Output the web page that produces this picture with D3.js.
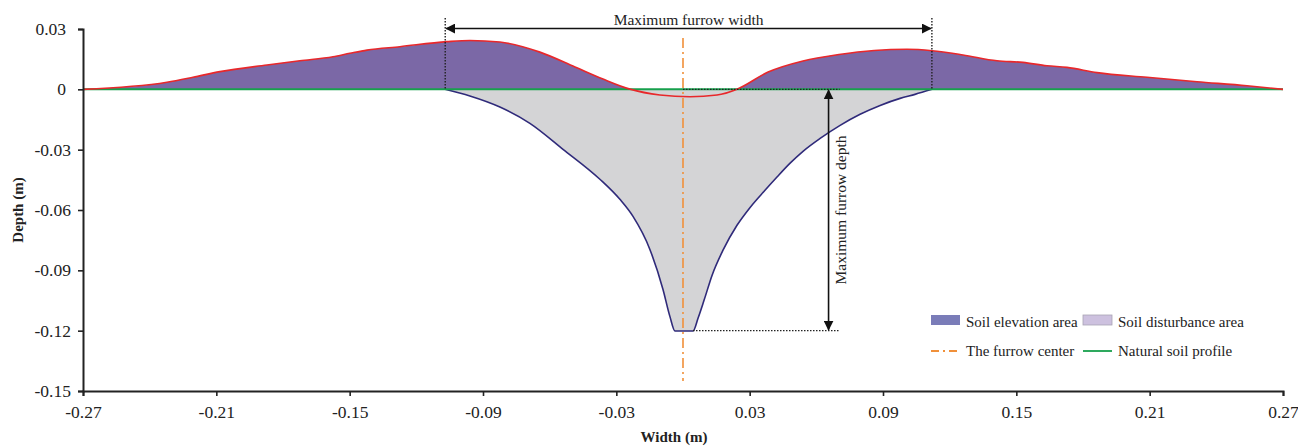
<!DOCTYPE html>
<html>
<head>
<meta charset="utf-8">
<script src="https://cdn.jsdelivr.net/npm/d3@7"></script>
<style>
  html, body { margin: 0; padding: 0; background: #fff; }
  svg { display: block; font-family: "Liberation Serif", "Times New Roman", serif; }
</style>
</head>
<body>
<svg id="chart" width="1298" height="446"></svg>
<script>
// Soil surface after furrowing (elevation profile), m
const surfaceX = [-0.27, -0.2322, -0.2205, -0.2084, -0.1872, -0.1724, -0.1575, -0.1499, -0.1422, -0.1274,
  -0.1062, -0.0959, -0.0824, -0.0644, -0.0486, -0.036, -0.0239, -0.0104, 0.0032, 0.0153, 0.0243,
  0.0383, 0.054, 0.0702, 0.086, 0.1008, 0.1121, 0.126, 0.1413, 0.153, 0.1638, 0.1728, 0.1863,
  0.2088, 0.2313, 0.2538, 0.27];
const surfaceY = [0, 0.0035, 0.006, 0.0088, 0.0121, 0.0142, 0.0162, 0.0179, 0.0195, 0.0212,
  0.0237, 0.0243, 0.0235, 0.0185, 0.0111, 0.0051, 0.0001, -0.0028, -0.0037, -0.0028, 0.0001,
  0.0086, 0.0141, 0.0173, 0.0193, 0.0199, 0.0192, 0.0171, 0.0142, 0.0134, 0.0117, 0.0109, 0.0083,
  0.006, 0.0038, 0.0018, 0];

// Furrow bottom (disturbed soil boundary), m
const bottomX = [-0.1071, -0.0959, -0.0824, -0.0689, -0.054, -0.0374, -0.0284, -0.0225, -0.0149, -0.009,
  -0.0059, -0.0036, 0.0045, 0.0068, 0.0095, 0.0131, 0.018, 0.0243, 0.0302, 0.0369, 0.0423, 0.0482,
  0.054, 0.0617, 0.0707, 0.0797, 0.0887, 0.0977, 0.1044, 0.1121];
const bottomY = [0, -0.0033, -0.0088, -0.0169, -0.0298, -0.0447, -0.0547, -0.0632, -0.0796, -0.0995,
  -0.1129, -0.1202, -0.1202, -0.1137, -0.1048, -0.0924, -0.0800, -0.0676, -0.0587, -0.0502, -0.0436, -0.0367,
  -0.0308, -0.0244, -0.0179, -0.0124, -0.0080, -0.0045, -0.0025, 0];

// Axis ticks
const xTicks = [-0.27, -0.21, -0.15, -0.09, -0.03, 0.03, 0.09, 0.15, 0.21, 0.27];
const yTicks = [0.03, 0, -0.03, -0.06, -0.09, -0.12, -0.15];

// Furrow dimensions
const furrowEdges = [-0.107, 0.112];
const furrowDepth = -0.12;
const furrowCenter = 0;

const svg = d3.select("#chart");
const W = 1298, H = 446;
const margin = { left: 83, right: 15, top: 29, bottom: 55 };

const x = d3.scaleLinear().domain([-0.27, 0.27]).range([margin.left, W - margin.right]);
const y = d3.scaleLinear().domain([-0.15, 0.03]).range([H - margin.bottom, margin.top]);

const surface = surfaceX.map((v, i) => [v, surfaceY[i]]);
const bottom = bottomX.map((v, i) => [v, bottomY[i]]);

const defs = svg.append("defs");
defs.append("marker")
  .attr("id", "arrow")
  .attr("viewBox", "0 0 10 10")
  .attr("refX", 9).attr("refY", 5)
  .attr("markerWidth", 10).attr("markerHeight", 10)
  .attr("markerUnits", "userSpaceOnUse")
  .attr("orient", "auto-start-reverse")
  .append("path").attr("d", "M0,0 L10,5 L0,10 Z").attr("fill", "#111");

const curve = d3.curveMonotoneX;

// Elevated soil (between surface and natural profile)
svg.append("path")
  .datum(surface)
  .attr("fill", "#7b68a6")
  .attr("d", d3.area().x(d => x(d[0])).y0(y(0)).y1(d => y(d[1])).curve(curve));

// Disturbed soil (between natural profile and furrow bottom)
svg.append("path")
  .datum(bottom)
  .attr("fill", "#d4d4d6")
  .attr("d", d3.area().x(d => x(d[0])).y0(y(0)).y1(d => y(d[1])).curve(curve));

// Furrow bottom line
svg.append("path")
  .datum(bottom)
  .attr("fill", "none")
  .attr("stroke", "#2f2a7a")
  .attr("stroke-width", 1.6)
  .attr("d", d3.line().x(d => x(d[0])).y(d => y(d[1])).curve(curve));

// Natural soil profile
svg.append("line")
  .attr("x1", x(-0.27)).attr("x2", x(0.27))
  .attr("y1", y(0)).attr("y2", y(0))
  .attr("stroke", "#17a04c").attr("stroke-width", 2);

// Soil surface line
svg.append("path")
  .datum(surface)
  .attr("fill", "none")
  .attr("stroke", "#e8282b")
  .attr("stroke-width", 1.6)
  .attr("d", d3.line().x(d => x(d[0])).y(d => y(d[1])).curve(curve));

// Furrow center
svg.append("line")
  .attr("x1", x(furrowCenter)).attr("x2", x(furrowCenter))
  .attr("y1", 38).attr("y2", 381)
  .attr("stroke", "#f0903a").attr("stroke-width", 1.6)
  .attr("stroke-dasharray", "10,4,2,4");

// Width annotation
const dotted = { stroke: "#222", "stroke-width": 1.4, "stroke-dasharray": "1.5,1.5" };
furrowEdges.forEach(e => {
  const l = svg.append("line")
    .attr("x1", x(e)).attr("x2", x(e))
    .attr("y1", 18).attr("y2", y(0));
  Object.entries(dotted).forEach(([k, v]) => l.attr(k, v));
});
svg.append("line")
  .attr("x1", x(furrowEdges[0]) + 1).attr("x2", x(furrowEdges[1]) - 1)
  .attr("y1", 28.5).attr("y2", 28.5)
  .attr("stroke", "#111").attr("stroke-width", 1.6)
  .attr("marker-start", "url(#arrow)").attr("marker-end", "url(#arrow)");
svg.append("text")
  .attr("x", (x(furrowEdges[0]) + x(furrowEdges[1])) / 2).attr("y", 25)
  .attr("text-anchor", "middle").attr("font-size", 15.5).attr("fill", "#222")
  .text("Maximum furrow width");

// Depth annotation
const depthX = x(0.0655);
[[x(furrowCenter), y(0)], [x(0.0045), y(furrowDepth)]].forEach(([sx, sy]) => {
  const l = svg.append("line")
    .attr("x1", sx).attr("x2", x(0.0705))
    .attr("y1", sy).attr("y2", sy);
  Object.entries(dotted).forEach(([k, v]) => l.attr(k, v));
});
svg.append("line")
  .attr("x1", depthX).attr("x2", depthX)
  .attr("y1", y(0) + 1).attr("y2", y(furrowDepth) - 1)
  .attr("stroke", "#111").attr("stroke-width", 1.6)
  .attr("marker-start", "url(#arrow)").attr("marker-end", "url(#arrow)");
svg.append("text")
  .attr("transform", `translate(${depthX + 17},${(y(0) + y(furrowDepth)) / 2}) rotate(-90)`)
  .attr("text-anchor", "middle").attr("font-size", 15.5).attr("fill", "#222")
  .text("Maximum furrow depth");

// Axes
const fmt = d => d === 0 ? "0" : d3.format(".2f")(d).replace("−", "-");
const xAxis = svg.append("g")
  .attr("transform", `translate(0,${y(-0.15)})`)
  .call(d3.axisBottom(x).tickValues(xTicks).tickSize(5).tickPadding(10).tickFormat(fmt));
const yAxis = svg.append("g")
  .attr("transform", `translate(${x(-0.27)},0)`)
  .call(d3.axisLeft(y).tickValues(yTicks).tickSize(5).tickPadding(7).tickFormat(fmt));
[xAxis, yAxis].forEach(g => {
  g.select(".domain").attr("stroke", "#222").attr("stroke-width", 2);
  g.selectAll(".tick line").attr("stroke", "#222").attr("stroke-width", 1.6);
  g.selectAll(".tick text")
    .attr("font-family", "Liberation Serif, Times New Roman, serif")
    .attr("font-size", 17.5).attr("fill", "#222");
});
// non-negative values keep a trailing gap like a "0.00_)" number format
yAxis.selectAll(".tick text").filter(d => d >= 0).attr("dx", -5);

svg.append("text")
  .attr("x", 674).attr("y", 442)
  .attr("text-anchor", "middle").attr("font-size", 15).attr("font-weight", "bold").attr("fill", "#222")
  .text("Width (m)");
svg.append("text")
  .attr("transform", `translate(23,${y(-0.06)}) rotate(-90)`)
  .attr("text-anchor", "middle").attr("font-size", 15).attr("font-weight", "bold").attr("fill", "#222")
  .text("Depth (m)");

// Legend
const legend = svg.append("g").attr("font-size", 15).attr("fill", "#222");
const legendItems = [
  { type: "rect", color: "#7a7cb8", label: "Soil elevation area", lx: 931, ly: 322 },
  { type: "rect", color: "#cdc1df", label: "Soil disturbance area", lx: 1083, ly: 322 },
  { type: "dash", color: "#f0903a", label: "The furrow center", lx: 931, ly: 351 },
  { type: "line", color: "#17a04c", label: "Natural soil profile", lx: 1083, ly: 351 }
];
legendItems.forEach(it => {
  if (it.type === "rect") {
    legend.append("rect")
      .attr("x", it.lx).attr("y", it.ly - 7).attr("width", 29).attr("height", 10)
      .attr("fill", it.color).attr("stroke", it.color === "#cdc1df" ? "#a9a3b3" : "none").attr("stroke-width", 0.8);
  } else {
    legend.append("line")
      .attr("x1", it.lx).attr("x2", it.lx + 29)
      .attr("y1", it.ly).attr("y2", it.ly)
      .attr("stroke", it.color).attr("stroke-width", 1.8)
      .attr("stroke-dasharray", it.type === "dash" ? "8,4,2,4" : null);
  }
  legend.append("text")
    .attr("x", it.lx + 35).attr("y", it.ly + 5)
    .text(it.label);
});
</script>
</body>
</html>
